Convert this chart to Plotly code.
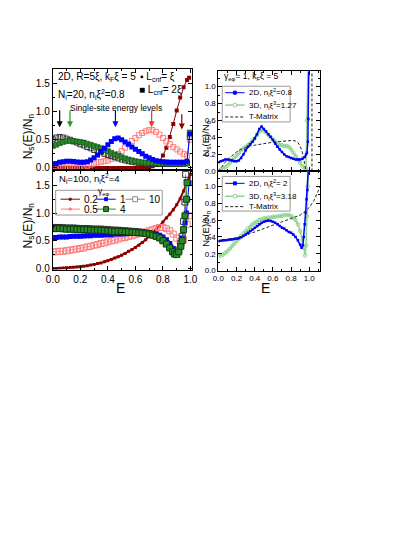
import plotly.graph_objects as go

W, H = 415, 537
OFF = 8  # page body margin offset
FONT = "Liberation Sans, Arial, sans-serif"

# ---------------- DATA ----------------
E_grid = [0.0, 0.025, 0.05, 0.075, 0.1, 0.125, 0.15, 0.175, 0.2, 0.225,
          0.25, 0.275, 0.3, 0.325, 0.35, 0.375, 0.4, 0.425, 0.45, 0.475,
          0.5, 0.525, 0.55, 0.575, 0.6, 0.625, 0.65, 0.675, 0.7, 0.725,
          0.75, 0.775, 0.8, 0.825, 0.85, 0.875, 0.9, 0.925, 0.95, 0.975]

# Top-left panel: N_i=20, 2D, different gamma (colour), L_cnf
tl_g10 = [0.51, 0.54, 0.55, 0.54, 0.52, 0.50, 0.47, 0.45, 0.42, 0.40, 0.37, 0.35, 0.32, 0.30,
          0.28, 0.25, 0.23, 0.21, 0.19, 0.17, 0.15, 0.135, 0.12, 0.11, 0.10, 0.09, 0.085, 0.08,
          0.075, 0.07, 0.07, 0.07, 0.07, 0.07, 0.07, 0.07, 0.07, 0.07, 0.075, 0.08]
tl_g10_tail_E, tl_g10_tail = [0.995], [0.55]
tl_g4 = [0.39, 0.41, 0.44, 0.46, 0.48, 0.48, 0.48, 0.47, 0.46, 0.45, 0.43, 0.41, 0.39, 0.37,
         0.35, 0.32, 0.30, 0.27, 0.24, 0.22, 0.19, 0.17, 0.15, 0.135, 0.12, 0.11, 0.10, 0.095,
         0.09, 0.085, 0.085, 0.08, 0.08, 0.08, 0.08, 0.08, 0.08, 0.08, 0.085, 0.09]
tl_g4_tail_E, tl_g4_tail = [0.995], [0.63]
tl_g1 = [0.07, 0.08, 0.10, 0.11, 0.12, 0.12, 0.115, 0.105, 0.10, 0.10, 0.11, 0.14, 0.18, 0.23,
         0.29, 0.35, 0.41, 0.47, 0.52, 0.53, 0.50, 0.46, 0.42, 0.37, 0.33, 0.29, 0.25, 0.21,
         0.18, 0.15, 0.13, 0.12, 0.11, 0.105, 0.10, 0.10, 0.10, 0.10, 0.10, 0.12]
tl_g1_tail_E, tl_g1_tail = [0.995], [0.60]
tl_g05 = [0.0, 0.0, 0.0, 0.01, 0.01, 0.01, 0.01, 0.01, 0.01, 0.02, 0.04, 0.06, 0.08, 0.10,
          0.11, 0.12, 0.13, 0.16, 0.20, 0.25, 0.30, 0.36, 0.42, 0.48, 0.53, 0.58, 0.62, 0.65,
          0.67, 0.67, 0.64, 0.59, 0.53, 0.47, 0.42, 0.37, 0.33, 0.29, 0.25, 0.22]
tl_g05_tail_E, tl_g05_tail = [0.995], [0.50]
tl_g02 = [0.0] * 28 + [0.01, 0.03, 0.06, 0.12, 0.22, 0.36, 0.55, 0.78, 1.02, 1.25, 1.43, 1.56]
tl_g02_tail_E, tl_g02_tail = [0.99], [1.60]

# single-site energy levels (arrows), per colour
level_E = [0.05, 0.125, 0.455, 0.718, 0.937]
level_top = [1.05, 1.05, 1.05, 1.05, 0.98]
level_head = [0.72, 0.72, 0.72, 0.72, 0.68]

# Bottom-left panel: N_i=100
bl_g02 = [0.0, 0.0, 0.005, 0.01, 0.012, 0.015, 0.02, 0.025, 0.03, 0.04, 0.05, 0.06, 0.07, 0.09,
          0.10, 0.12, 0.14, 0.16, 0.19, 0.21, 0.24, 0.27, 0.31, 0.34, 0.38, 0.42, 0.47, 0.52,
          0.58, 0.64, 0.70, 0.77, 0.84, 0.91, 0.98, 1.06, 1.15, 1.26, 1.40, 1.55]
bl_g02_tail_E, bl_g02_tail = [0.99, 1.0], [1.63, 1.70]
bl_g05 = [0.30, 0.30, 0.31, 0.31, 0.32, 0.33, 0.34, 0.35, 0.36, 0.37, 0.39, 0.40, 0.42, 0.43,
          0.45, 0.46, 0.48, 0.50, 0.51, 0.53, 0.55, 0.56, 0.58, 0.59, 0.61, 0.63, 0.64, 0.66,
          0.68, 0.70, 0.72, 0.74, 0.74, 0.72, 0.68, 0.62, 0.55, 0.49, 0.52, 0.80]
bl_g05_tail_E, bl_g05_tail = [0.99], [0.95]
bl_g1 = [0.56, 0.56, 0.57, 0.57, 0.57, 0.575, 0.58, 0.58, 0.58, 0.585, 0.59, 0.59, 0.60, 0.60,
         0.60, 0.605, 0.61, 0.61, 0.62, 0.62, 0.62, 0.625, 0.63, 0.63, 0.63, 0.63, 0.63, 0.63,
         0.63, 0.625, 0.62, 0.60, 0.57, 0.52, 0.45, 0.36]
bl_g1_tail_E = [0.89, 0.9, 0.91, 0.925, 0.94, 0.95, 0.96, 0.97, 0.98, 0.99]
bl_g1_tail = [0.30, 0.28, 0.30, 0.40, 0.55, 0.70, 0.82, 1.0, 1.25, 1.55]
bl_g4 = [0.72, 0.72, 0.72, 0.715, 0.71, 0.71, 0.71, 0.705, 0.70, 0.70, 0.70, 0.695, 0.69, 0.69,
         0.69, 0.685, 0.68, 0.675, 0.67, 0.67, 0.67, 0.665, 0.66, 0.655, 0.65, 0.645, 0.64, 0.63,
         0.62, 0.60, 0.58, 0.55, 0.50, 0.44, 0.37]
bl_g4_tail_E = [0.87, 0.885, 0.9, 0.915, 0.93, 0.94, 0.95, 0.96, 0.97, 0.975]
bl_g4_tail = [0.30, 0.26, 0.25, 0.30, 0.40, 0.50, 0.70, 0.95, 1.25, 1.55]
bl_g10 = [0.74, 0.74, 0.74, 0.735, 0.73, 0.73, 0.73, 0.725, 0.72, 0.72, 0.72, 0.715, 0.71, 0.71,
          0.71, 0.705, 0.70, 0.695, 0.69, 0.69, 0.685, 0.68, 0.675, 0.67, 0.665, 0.66, 0.65, 0.64,
          0.63, 0.61, 0.59, 0.56, 0.51, 0.45, 0.38]
bl_g10_tail_E = [0.87, 0.885, 0.9, 0.915, 0.93, 0.94, 0.95, 0.96, 0.965]
bl_g10_tail = [0.31, 0.27, 0.27, 0.33, 0.45, 0.58, 0.85, 1.2, 1.7]

# Right-top panel: gamma=1, kF xi = 5
rt_2d = [0.11, 0.12, 0.13, 0.14, 0.14, 0.135, 0.13, 0.12, 0.12, 0.13, 0.16, 0.20, 0.25, 0.29,
         0.32, 0.35, 0.39, 0.44, 0.50, 0.53, 0.50, 0.47, 0.44, 0.41, 0.37, 0.33, 0.29, 0.26,
         0.23, 0.20, 0.18, 0.17, 0.16, 0.15, 0.14, 0.14, 0.14, 0.15, 0.17]
rt_2d_tail_E, rt_2d_tail = [0.965, 0.975, 0.985, 0.99, 0.995], [0.20, 0.22, 0.35, 0.62, 1.2]
rt_3d = [0.01, 0.02, 0.03, 0.05, 0.07, 0.10, 0.13, 0.16, 0.19, 0.22, 0.25, 0.27, 0.29, 0.31,
         0.33, 0.36, 0.39, 0.43, 0.47, 0.49, 0.48, 0.46, 0.43, 0.40, 0.38, 0.35, 0.33, 0.31,
         0.31, 0.30, 0.30, 0.29, 0.26, 0.22, 0.18, 0.14, 0.10, 0.06, 0.03]
rt_3d_tail_E, rt_3d_tail = [0.965, 0.975, 0.985], [0.03, 0.6, 1.2]
rt_tm_E = [0.0, 0.025, 0.05, 0.075, 0.1, 0.15, 0.2, 0.25, 0.3, 0.35, 0.4, 0.45, 0.5, 0.55, 0.6,
           0.65, 0.7, 0.75, 0.8, 0.85, 0.875, 0.9, 0.925, 0.95, 0.965, None, 1.03, 1.03]
rt_tm = [0.0, 0.04, 0.08, 0.11, 0.14, 0.19, 0.23, 0.26, 0.28, 0.30, 0.31, 0.32, 0.33, 0.34, 0.345,
         0.35, 0.355, 0.36, 0.365, 0.36, 0.34, 0.30, 0.22, 0.09, 0.0, None, 0.0, 1.18]

# Right-bottom panel
rb_2d = [0.35, 0.355, 0.36, 0.36, 0.365, 0.37, 0.37, 0.375, 0.38, 0.385, 0.395, 0.41, 0.43, 0.45,
         0.47, 0.49, 0.51, 0.53, 0.55, 0.57, 0.58, 0.59, 0.595, 0.59, 0.58, 0.57, 0.55, 0.53,
         0.51, 0.50, 0.48, 0.46, 0.45, 0.43, 0.40, 0.36, 0.31]
rb_2d_tail_E = [0.915, 0.93, 0.94, 0.95, 0.96, 0.97, 0.98, 0.99]
rb_2d_tail = [0.27, 0.30, 0.40, 0.55, 0.69, 0.85, 0.96, 1.2]
rb_3d = [0.17, 0.18, 0.19, 0.21, 0.23, 0.26, 0.29, 0.32, 0.35, 0.38, 0.41, 0.44, 0.47, 0.50,
         0.52, 0.55, 0.57, 0.58, 0.60, 0.61, 0.62, 0.62, 0.63, 0.63, 0.64, 0.64, 0.645, 0.65,
         0.65, 0.66, 0.66, 0.66, 0.65, 0.63, 0.60, 0.55, 0.47, 0.36]
rb_3d_tail_E = [0.94, 0.955, 0.965, 0.975, 0.985, 0.99]
rb_3d_tail = [0.27, 0.18, 0.30, 0.65, 1.0, 1.2]
rb_tm_E = [0.0, 0.1, 0.2, 0.3, 0.4, 0.5, 0.6, 0.7, 0.8, 0.9, 0.95, 1.0, 1.05, 1.1, 1.12]
rb_tm = [0.35, 0.37, 0.39, 0.42, 0.46, 0.50, 0.54, 0.58, 0.62, 0.66, 0.70, 0.75, 0.83, 0.94, 1.0]

# ---------------- STYLE ----------------
C_BLACK = "#333333"
C_GREEN = "#2a8a2a"
C_BLUE = "#0000ff"
C_PINK = "#ff7a7a"
C_DRED = "#8b0000"
C_LGREEN = "#8fd48f"


def px(x):
    return (x - OFF) / W


def py(y):
    return 1 - (y - OFF) / H


fig = go.Figure()


def add(x, y, ax, **kw):
    fig.add_trace(go.Scatter(x=x, y=y, xaxis="x" + ax, yaxis="y" + ax,
                             showlegend=False, hoverinfo="skip", **kw))


# top-left
add(E_grid + tl_g02_tail_E, tl_g02 + tl_g02_tail, "", mode="lines+markers",
    line=dict(color=C_DRED, width=1), marker=dict(symbol="square", size=4, color=C_DRED))
add(E_grid + tl_g05_tail_E, tl_g05 + tl_g05_tail, "", mode="markers",
    marker=dict(symbol="square-open", size=5, color=C_PINK, line=dict(width=1)))
add(E_grid + tl_g10_tail_E, tl_g10 + tl_g10_tail, "", mode="markers",
    marker=dict(symbol="square-open", size=5, color=C_BLACK, line=dict(width=1)))
add(E_grid + tl_g4_tail_E, tl_g4 + tl_g4_tail, "", mode="lines+markers",
    line=dict(color=C_GREEN, width=1),
    marker=dict(symbol="square", size=5, color=C_GREEN, line=dict(color="#0d3d0d", width=0.5)))
add(E_grid + tl_g1_tail_E, tl_g1 + tl_g1_tail, "", mode="lines+markers",
    line=dict(color=C_BLUE, width=1), marker=dict(symbol="square", size=5, color=C_BLUE))

# bottom-left
add(E_grid + bl_g02_tail_E, bl_g02 + bl_g02_tail, "2", mode="lines+markers",
    line=dict(color=C_DRED, width=2), marker=dict(symbol="square", size=3, color=C_DRED))
add(E_grid + bl_g05_tail_E, bl_g05 + bl_g05_tail, "2", mode="lines+markers",
    line=dict(color=C_PINK, width=0.8),
    marker=dict(symbol="square-open", size=6, color=C_PINK, line=dict(width=1)))
add(E_grid[:35] + bl_g10_tail_E, bl_g10 + bl_g10_tail, "2", mode="lines+markers",
    line=dict(color="#666666", width=0.8),
    marker=dict(symbol="square-open", size=6, color=C_BLACK, line=dict(width=1)))
add(E_grid[:36] + bl_g1_tail_E, bl_g1 + bl_g1_tail, "2", mode="lines+markers",
    line=dict(color=C_BLUE, width=1), marker=dict(symbol="square", size=5, color=C_BLUE))
add(E_grid[:35] + bl_g4_tail_E, bl_g4 + bl_g4_tail, "2", mode="lines+markers",
    line=dict(color=C_GREEN, width=1),
    marker=dict(symbol="square", size=6, color=C_GREEN, line=dict(color="#0d3d0d", width=1)))

# right-top
add(E_grid[:39] + rt_3d_tail_E, rt_3d + rt_3d_tail, "3", mode="lines+markers",
    line=dict(color=C_LGREEN, width=1.5),
    marker=dict(symbol="circle-open", size=3.5, color=C_LGREEN, line=dict(width=1)))
add(E_grid[:39] + rt_2d_tail_E, rt_2d + rt_2d_tail, "3", mode="lines+markers",
    line=dict(color=C_BLUE, width=1.5), marker=dict(symbol="square", size=2.5, color=C_BLUE))
add(rt_tm_E, rt_tm, "3", mode="lines", connectgaps=False,
    line=dict(color="#222222", width=1, dash="3px,2px"))

# right-bottom
add(E_grid[:38] + rb_3d_tail_E, rb_3d + rb_3d_tail, "4", mode="lines+markers",
    line=dict(color=C_LGREEN, width=1.5),
    marker=dict(symbol="circle-open", size=3.5, color=C_LGREEN, line=dict(width=1)))
add(E_grid[:37] + rb_2d_tail_E, rb_2d + rb_2d_tail, "4", mode="lines+markers",
    line=dict(color=C_BLUE, width=1.5), marker=dict(symbol="square", size=2.5, color=C_BLUE))
add(rb_tm_E, rb_tm, "4", mode="lines",
    line=dict(color="#222222", width=1, dash="3px,2px"))

# ---------------- AXES ----------------
LX = [px(47), px(191)]
RX = [px(218), px(323)]


def xax(domain, rng, anchor, labels, fs, dtick):
    return dict(domain=domain, range=rng, anchor=anchor, showticklabels=labels,
                showgrid=False, zeroline=False, showline=True, linecolor="black", linewidth=1,
                mirror="allticks", ticks="inside", ticklen=4, tickcolor="black",
                dtick=dtick, tick0=0, tickformat=".1f",
                tickfont=dict(family=FONT, size=fs, color="black"),
                minor=dict(ticks="inside", ticklen=2, dtick=dtick / 2, tickcolor="black"))


layout = dict(
    width=W, height=H, margin=dict(l=0, r=0, t=0, b=0),
    paper_bgcolor="white", plot_bgcolor="white", showlegend=False,
    font=dict(family=FONT, color="black"),
    xaxis=xax(LX, [0, 1.013], "y", False, 10, 0.2),
    yaxis=xax([py(172), py(70)], [-0.044, 1.746], "x", True, 10, 0.5),
    xaxis2=xax(LX, [0, 1.013], "y2", True, 10, 0.2),
    yaxis2=xax([py(272), py(172)], [-0.02, 1.77], "x2", True, 10, 0.5),
    xaxis3=xax(RX, [0, 1.12], "y3", False, 8, 0.2),
    yaxis3=xax([py(173), py(72)], [0, 1.18], "x3", True, 8, 0.2),
    xaxis4=xax(RX, [0, 1.12], "y4", True, 8, 0.2),
    yaxis4=xax([py(273), py(173)], [0, 1.18], "x4", True, 8, 0.2),
)
fig.update_layout(**layout)

ann = []
shapes = []


def text(x, y, s, size, xanchor="left", angle=0, color="black"):
    ann.append(dict(x=px(x), y=py(y), xref="paper", yref="paper", text=s, showarrow=False,
                    xanchor=xanchor, yanchor="middle", textangle=angle,
                    font=dict(family=FONT, size=size, color=color)))


# axis titles
NS = "N<sub>s</sub>(E)/N<sub>n</sub>"
text(22, 138, NS, 12, "center", -90)
text(22, 228, NS, 12, "center", -90)
text(205, 140, NS, 9.5, "center", -90)
text(205, 231, NS, 9.5, "center", -90)
text(117, 291, "E", 14, "center")
text(267, 291, "E", 14, "center")

# panel texts
text(50, 78, "2D, R=5ξ, k<sub>F</sub>ξ = 5", 10)
text(50, 95, "N<sub>i</sub>=20, n<sub>i</sub>ξ<sup>2</sup>=0.8", 10)
text(135, 78, "▪ L<sub>cnf</sub>= ξ", 10)
text(134, 91, "■ L<sub>cnf</sub>= 2ξ", 10)
text(63, 109, "Single-site energy levels", 8.5)
text(51, 180, "N<sub>i</sub>=100, n<sub>i</sub>ξ<sup>2</sup>=4", 9.5)
text(222, 77, "γ<sub>eφ</sub>= 1, k<sub>F</sub>ξ = 5", 8.5)

# arrows for single-site levels
arrow_cols = ["black", "#2a9a2a", C_BLUE, "#ff2a2a", C_DRED]
for e, t, h, c in zip(level_E, level_top, level_head, arrow_cols):
    ann.append(dict(x=e, y=h, ax=e, ay=t, xref="x", yref="y", axref="x", ayref="y",
                    showarrow=True, arrowhead=2, arrowsize=1, arrowwidth=1.2, arrowcolor=c,
                    text=""))


# manual legends
def leg_line(x1, x2, y, color, width=1, dash="solid"):
    shapes.append(dict(type="line", xref="paper", yref="paper", x0=px(x1), x1=px(x2),
                       y0=py(y), y1=py(y), line=dict(color=color, width=width, dash=dash)))


def leg_mark(x, y, s, color, fill, kind="rect"):
    shapes.append(dict(type=kind, xref="paper", yref="paper", x0=px(x - s), x1=px(x + s),
                       y0=py(y + s), y1=py(y - s), line=dict(color=color, width=1),
                       fillcolor=fill))


def leg_box(x0, y0, x1, y1):
    shapes.append(dict(type="rect", xref="paper", yref="paper", x0=px(x0), x1=px(x1),
                       y0=py(y1), y1=py(y0), line=dict(color="#9a9a9a", width=1),
                       fillcolor="rgba(255,255,255,0)"))


# bottom-left legend
leg_box(50, 192, 160, 217)
text(100, 193.5, "γ<sub>eφ</sub>", 8.5, "center")
entries_bl = [(55, 201, C_DRED, C_DRED, 1, "0.2"), (92, 201, C_BLUE, C_BLUE, 1.5, "1"),
              (122, 201, "#888888", "white", 2.5, "10"), (55, 211, C_PINK, C_PINK, 1, "0.5"),
              (92, 211, "#0d3d0d", C_GREEN, 2.5, "4")]
for x0, y, lc, fc, s, lab in entries_bl:
    leg_line(x0, x0 + 20, y, lc if lab != "4" else C_GREEN, 1)
    leg_mark(x0 + 10, y, s, lc, fc)
    text(x0 + 22, y, lab, 10)

# right legends
for (y0, y1, rows, labs) in [
    (87, 123, (93.5, 106, 118), ("2D, n<sub>i</sub>ξ<sup>2</sup>=0.8",
                                 "3D, n<sub>i</sub>ξ<sup>3</sup>=1.27", "T-Matrix")),
    (178, 213, (185, 198, 208.5), ("2D, n<sub>i</sub>ξ<sup>2</sup>= 2",
                                   "3D, n<sub>i</sub>ξ<sup>3</sup>=3.18", "T-Matrix")),
]:
    leg_box(222, y0, 292, y1)
    leg_line(225, 245, rows[0], C_BLUE, 1)
    leg_mark(235, rows[0], 1.5, C_BLUE, C_BLUE)
    text(247, rows[0], labs[0], 8)
    leg_line(225, 245, rows[1], C_LGREEN, 1.5)
    leg_mark(235, rows[1], 2, C_LGREEN, "white", "circle")
    text(247, rows[1], labs[1], 8)
    leg_line(225, 245, rows[2], "#222222", 1, "3px,2px")
    text(248, rows[2], labs[2], 8)

fig.update_layout(annotations=ann, shapes=shapes)
fig.write_html("out.html")
